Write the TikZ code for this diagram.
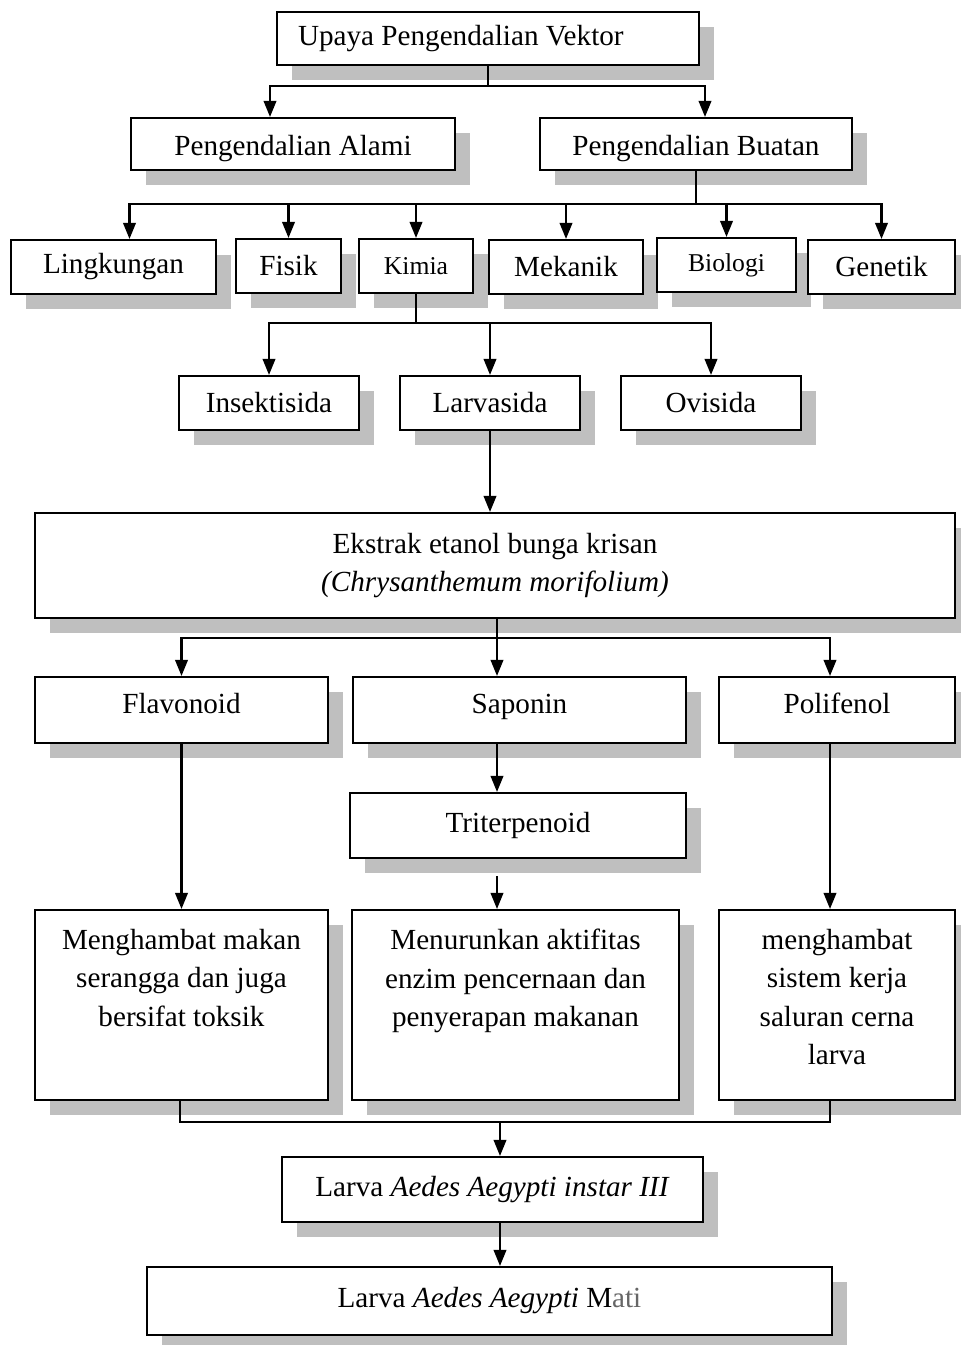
\documentclass[tikz,border=0pt]{standalone}
\usepackage{fontspec}
\setmainfont{Liberation Serif}
\usetikzlibrary{arrows.meta, shadows}

\tikzset{
  kotak/.style={draw, line width=1.2pt, fill=white, inner sep=2pt,
    drop shadow={shadow xshift=0.3cm, shadow yshift=-0.3cm, fill=black!25, opacity=1},
    font=\fontsize{16.6}{21.8}\selectfont},
  kecil/.style={font=\fontsize{14.6}{18}\selectfont},
  panah/.style={line width=1.2pt, -{Triangle[length=0.32cm, width=0.25cm]}},
  garis/.style={line width=1.2pt},
}

\begin{document}
\begin{tikzpicture}[x=0.02cm, y=-0.02cm]
    \useasboundingbox (0,0) rectangle (960,1345);
    % Upaya dan cabangnya
    \node[kotak, minimum width=8.44cm, minimum height=1.06cm, text width=7.6cm, align=flush left] (upaya) at (488,38.5) {Upaya Pengendalian Vektor};
    \node[kotak, minimum width=6.48cm, minimum height=1.04cm, text height=17pt] (alami) at (293,144) {Pengendalian Alami};
    \node[kotak, minimum width=6.24cm, minimum height=1.04cm, text height=17pt] (buatan) at (696,144) {Pengendalian Buatan};
    % Jenis pengendalian buatan
    \node[kotak, minimum width=4.1cm, minimum height=1.08cm] (ling) at (113.5,267) {Lingkungan};
    \node[kotak, minimum width=2.1cm, minimum height=1.08cm] (fisik) at (288.5,266) {Fisik};
    \node[kotak, kecil, minimum width=2.28cm, minimum height=1.08cm] (kimia) at (416,266) {Kimia};
    \node[kotak, minimum width=3.08cm, minimum height=1.08cm] (mekanik) at (566,267) {Mekanik};
    \node[kotak, kecil, minimum width=2.78cm, minimum height=1.08cm] (biologi) at (726.5,265) {Biologi};
    \node[kotak, minimum width=2.94cm, minimum height=1.08cm] (genetik) at (881.5,267) {Genetik};
    % Kimia
    \node[kotak, minimum width=3.6cm, minimum height=1.08cm] (insektisida) at (269,403) {Insektisida};
    \node[kotak, minimum width=3.6cm, minimum height=1.08cm] (larvasida) at (490,403) {Larvasida};
    \node[kotak, minimum width=3.6cm, minimum height=1.08cm] (ovisida) at (711,403) {Ovisida};
    % Ekstrak dan kandungannya
    \node[kotak, minimum width=18.4cm, minimum height=2.1cm, align=center] (ekstrak) at (495,565.5) {Ekstrak etanol bunga krisan\\\textit{(Chrysanthemum morifolium)}};
    \node[kotak, minimum width=5.86cm, minimum height=1.32cm, text height=11.5pt, text depth=7.5pt] (flavonoid) at (181.5,710) {Flavonoid};
    \node[kotak, minimum width=6.66cm, minimum height=1.32cm, text height=11.5pt, text depth=7.5pt] (saponin) at (519.5,710) {Saponin};
    \node[kotak, minimum width=4.72cm, minimum height=1.32cm, text height=11.5pt, text depth=7.5pt] (polifenol) at (837,710) {Polifenol};
    \node[kotak, minimum width=6.72cm, minimum height=1.3cm] (tri) at (518,825.5) {Triterpenoid};
    % Mekanisme kerja
    \node[kotak, minimum width=5.86cm, minimum height=3.8cm] (hambat) at (181.5,1005) {\parbox[c][\dimexpr3.8cm-4pt][t]{5.6cm}{\centering\vspace*{9pt}Menghambat makan\\serangga dan juga\\bersifat toksik}};
    \node[kotak, minimum width=6.54cm, minimum height=3.8cm] (turun) at (515.5,1005) {\parbox[c][\dimexpr3.8cm-4pt][t]{6.3cm}{\centering\vspace*{9pt}Menurunkan aktifitas\\enzim pencernaan dan\\penyerapan makanan}};
    \node[kotak, minimum width=4.72cm, minimum height=3.8cm] (cerna) at (837,1005) {\parbox[c][\dimexpr3.8cm-4pt][t]{4.5cm}{\centering\vspace*{9pt}menghambat\\sistem kerja\\saluran cerna\\larva}};
    % Hasil
    \node[kotak, minimum width=8.42cm, minimum height=1.3cm] (instar) at (492.5,1189.5) {Larva \textit{Aedes Aegypti instar III}};
    \node[kotak, minimum width=13.7cm, minimum height=1.36cm] (mati) at (489.5,1301) {Larva \textit{Aedes Aegypti} M{\color{black!60}ati}};

    % Panah
    \draw[garis] (upaya.south) -- ++(0,20) coordinate (c1);
    \draw[panah] (c1) -| ([xshift=-0.46cm]alami.north);
    \draw[panah] (c1) -| ([xshift=0.18cm]buatan.north);
    \draw[garis] (buatan.south) -- ++(0,33) coordinate (c2);
    \draw[panah] (c2) -| ([xshift=0.32cm]ling.north);
    \foreach \n in {fisik, kimia, mekanik, biologi, genetik}
        \draw[panah] (c2) -| (\n.north);
    \draw[garis] (kimia.south) -- ++(0,29) coordinate (c3);
    \foreach \n in {insektisida, larvasida, ovisida}
        \draw[panah] (c3) -| (\n.north);
    \draw[panah] (larvasida.south) -- (larvasida.south |- ekstrak.north);
    \draw[garis, line width=0.6pt] ([xshift=0.04cm]ekstrak.south) -- ++(0,19) coordinate (c4);
    \draw[panah] (c4) -| (flavonoid.north);
    \draw[panah] (c4) -- (c4 |- saponin.north);
    \draw[panah] (c4) -| ([xshift=-0.14cm]polifenol.north);
    \draw[panah] (c4 |- saponin.south) -- (c4 |- tri.north);
    \coordinate (c5) at (c4 |- tri.south);
    \draw[panah] ([yshift=-0.34cm]c5) -- (c4 |- turun.north);
    \draw[panah] (flavonoid.south) -- (hambat.north);
    \draw[panah] ([xshift=-0.14cm]polifenol.south) -- ([xshift=-0.14cm]cerna.north);
    \draw[garis] ([xshift=-0.03cm]hambat.south) -- ++(0,21) coordinate (c6) -| ([xshift=-0.14cm]cerna.south);
    \coordinate (c7) at ([xshift=0.15cm]instar.north);
    \draw[panah] (c6 -| c7) -- (c7);
    \coordinate (c8) at ([xshift=0.15cm]instar.south);
    \draw[panah] (c8) -- (c8 |- mati.north);
\end{tikzpicture}
\end{document}
